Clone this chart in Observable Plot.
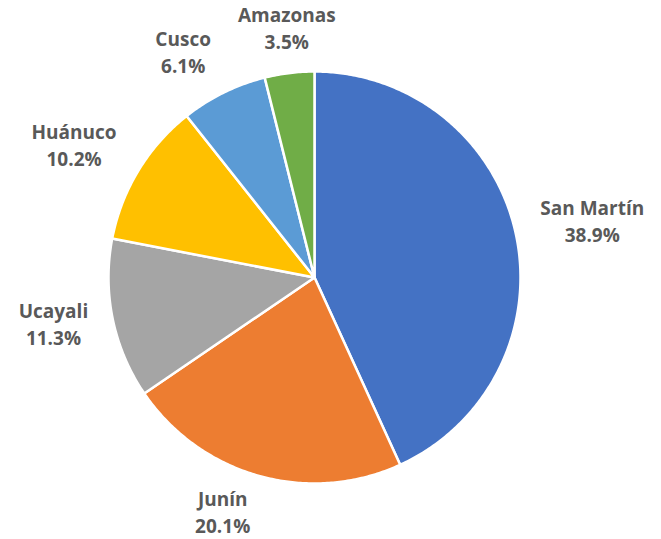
<!DOCTYPE html>
<html>
<head>
<meta charset="utf-8">
<script src="https://cdn.jsdelivr.net/npm/d3@7"></script>
<script src="https://cdn.jsdelivr.net/npm/@observablehq/plot@0.6"></script>
<style>
  html, body { margin: 0; padding: 0; background: #fff; }
</style>
</head>
<body>
<div id="chart"></div>
<script>
const regions = ["San Martín", "Junín", "Ucayali", "Huánuco", "Cusco", "Amazonas"];
const shares = [38.9, 20.1, 11.3, 10.2, 6.1, 3.5];
const colors = ["#4472C4", "#ED7D31", "#A5A5A5", "#FFC000", "#5B9BD5", "#70AD47"];

const W = 661, H = 539;
const cx = 314, cy = 277, R = 206; // pixel layout of the pie
const FS = 19;
const FONT = `bold ${FS}px 'Open Sans'`;
const total = d3.sum(shares);

const ctx = document.createElement("canvas").getContext("2d");
ctx.font = FONT;

// slice polygons in unit coordinates (r = 1), clockwise from 12 o'clock
const slices = [];
const labels = [];
let acc = 0;
regions.forEach((name, i) => {
  const a0 = acc / total * 2 * Math.PI;
  acc += shares[i];
  const a1 = acc / total * 2 * Math.PI;
  slices.push({name, x: 0, y: 0});
  const n = Math.max(4, Math.ceil((a1 - a0) / 0.01));
  for (let k = 0; k <= n; k++) {
    const a = a0 + (a1 - a0) * k / n;
    slices.push({name, x: Math.sin(a), y: Math.cos(a)});
  }
  slices.push({name, x: 0, y: 0});
  // label: anchor point just outside the edge on the mid-angle, box placed beside it
  const m = (a0 + a1) / 2;
  const pct = shares[i].toFixed(1) + "%";
  const hw = Math.max(ctx.measureText(name).width, ctx.measureText(pct).width) / 2;
  const s = Math.sin(m), c = Math.cos(m);
  const r1 = 1.107;
  let px = r1 * s, py = r1 * c;
  const side = Math.abs(s) < 0.2 ? 0 : Math.sign(s);
  px += side * (hw + 3) / R;
  py += (19 * c + 5) / R;
  labels.push({name, text: `${name}\n${pct}`, x: px, y: py});
});

const chart = Plot.plot({
  width: W,
  height: H,
  margin: 0,
  x: {domain: [-cx / R, (W - cx) / R], axis: null},
  y: {domain: [-(H - cy) / R, cy / R], axis: null},
  color: {domain: regions, range: colors},
  marks: [
    Plot.line(slices, {x: "x", y: "y", z: "name", fill: "name", stroke: "white", strokeWidth: 2.5, strokeLinejoin: "round", curve: "linear"}),
    Plot.text(labels, {x: "x", y: "y", text: "text", fontSize: FS, fontWeight: "bold", fill: "#595959", lineHeight: 27 / FS, textAnchor: "middle", fontFamily: "'Open Sans', sans-serif"})
  ]
});
document.getElementById("chart").append(chart);
</script>
</body>
</html>
